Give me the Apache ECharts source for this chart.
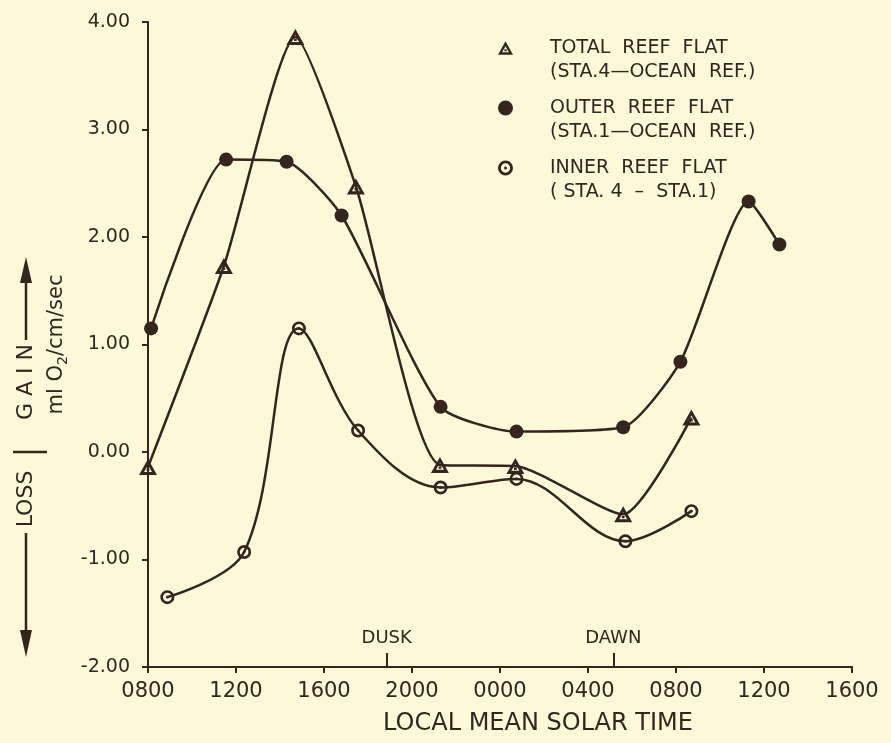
<!DOCTYPE html>
<html>
<head>
<meta charset="utf-8">
<script src="https://cdn.jsdelivr.net/npm/echarts@6/dist/echarts.min.js"></script>
<style>
  html, body { margin: 0; padding: 0; background: #fcf8d8; }
  #chart { width: 891px; height: 743px; }
</style>
</head>
<body>
<div id="chart"></div>
<script>
// hours after 0800 on day one
const totalX = [0, 3.45, 6.7, 9.45, 13.27, 16.7, 21.6, 24.7];
const totalY = [-0.14, 1.73, 3.86, 2.47, -0.12, -0.13, -0.58, 0.32];

const outerX = [0.14, 3.55, 6.3, 8.8, 13.3, 16.75, 21.6, 24.2, 27.3, 28.7];
const outerY = [1.15, 2.72, 2.7, 2.2, 0.42, 0.19, 0.23, 0.84, 2.33, 1.93];

const innerX = [0.88, 4.37, 6.86, 9.55, 13.3, 16.75, 21.7, 24.7];
const innerY = [-1.35, -0.93, 1.15, 0.2, -0.33, -0.25, -0.83, -0.55];

const seriesNames = [
  "TOTAL  REEF  FLAT\n(STA.4\u2014OCEAN  REF.)",
  "OUTER  REEF  FLAT\n(STA.1\u2014OCEAN  REF.)",
  "INNER  REEF  FLAT\n( STA. 4  \u2013  STA.1)",
];

const duskX = 10.85;
const dawnX = 21.15;

const ink = "#35251e";
const font = "DejaVu Sans";

const triPath =
  "path://M0,-10L10,8L-10,8Z M0,-3.4L-4.4,4.5L4.4,4.5Z M-1.5,0.8L1.5,0.8L1.5,3.4L-1.5,3.4Z";
const ringPath =
  "path://M0,-10A10,10 0 1,1 0,10A10,10 0 1,1 0,-10Z M0,-6.2A6.2,6.2 0 1,0 0,6.2A6.2,6.2 0 1,0 0,-6.2Z M0,-2A2,2 0 1,1 0,2A2,2 0 1,1 0,-2Z";

const zip = (xs, ys) => xs.map((x, i) => [x, ys[i]]);

const hourLabel = (v) => {
  const h = (8 + v) % 24;
  return String(h * 100).padStart(4, "0");
};

const chart = echarts.init(document.getElementById("chart"));

chart.setOption({
  backgroundColor: "#fcf8d8",
  animation: false,
  textStyle: { fontFamily: font, color: ink },
  grid: { left: 148, right: 39, top: 22, bottom: 76 },
  legend: {
    orient: "vertical",
    left: 498,
    top: 12,
    padding: 0,
    itemGap: -12,
    itemWidth: 15,
    itemHeight: 15,
    selectedMode: false,
    formatter: (name) => "\n" + name,
    textStyle: {
      fontFamily: font,
      fontSize: 19,
      lineHeight: 24,
      color: ink,
      padding: [0, 0, 0, 32],
    },
    data: [
      { name: seriesNames[0], icon: triPath },
      { name: seriesNames[1], icon: "circle" },
      { name: seriesNames[2], icon: ringPath },
    ],
  },
  xAxis: {
    type: "value",
    min: 0,
    max: 32,
    interval: 4,
    name: "LOCAL MEAN SOLAR TIME",
    nameLocation: "middle",
    nameGap: 45,
    nameTextStyle: { fontFamily: font, fontSize: 24, color: ink, padding: [0, 0, 0, 76] },
    axisLine: { onZero: false, lineStyle: { color: ink, width: 2 } },
    axisTick: { length: 6, lineStyle: { color: ink, width: 2 } },
    axisLabel: { formatter: hourLabel, fontSize: 21, color: ink, margin: 14, fontFamily: font },
    splitLine: { show: false },
  },
  yAxis: {
    type: "value",
    min: -2,
    max: 4,
    interval: 1,
    name: "ml O{sub|2}/cm/sec",
    nameLocation: "middle",
    nameRotate: 90,
    nameGap: 70,
    nameTextStyle: {
      fontFamily: font,
      fontSize: 21,
      color: ink,
      rich: {
        sub: { fontSize: 14, fontFamily: font, color: ink, padding: [12, 0, 0, 0] },
      },
    },
    axisLine: { show: true, onZero: false, lineStyle: { color: ink, width: 2 } },
    axisTick: { show: true, length: 6, lineStyle: { color: ink, width: 2 } },
    axisLabel: { formatter: (v) => v.toFixed(2), fontSize: 19, color: ink, margin: 18, fontFamily: font },
    splitLine: { show: false },
  },
  series: [
    {
      name: seriesNames[0],
      type: "line",
      smooth: 0.2,
      data: zip(totalX, totalY),
      symbol: triPath,
      symbolSize: [18, 16],
      lineStyle: { color: ink, width: 2.5 },
      itemStyle: { color: ink },
      z: 3,
    },
    {
      name: seriesNames[1],
      type: "line",
      smooth: 0.2,
      data: zip(outerX, outerY),
      symbol: "circle",
      symbolSize: 14,
      lineStyle: { color: ink, width: 2.5 },
      itemStyle: { color: ink },
      markLine: {
        silent: true,
        symbol: "none",
        lineStyle: { color: ink, width: 2, type: "solid" },
        label: {
          show: true,
          position: "end",
          formatter: "{b}",
          fontFamily: font,
          fontSize: 18,
          color: ink,
          distance: 6,
        },
        data: [
          [{ name: "DUSK", coord: [duskX, -2] }, { coord: [duskX, -1.87] }],
          [{ name: "DAWN", coord: [dawnX, -2] }, { coord: [dawnX, -1.87] }],
        ],
      },
      z: 3,
    },
    {
      name: seriesNames[2],
      type: "line",
      smooth: 0.35,
      data: zip(innerX, innerY),
      symbol: ringPath,
      symbolSize: 14,
      lineStyle: { color: ink, width: 2.5 },
      itemStyle: { color: ink },
      z: 3,
    },
  ],
  graphic: [
    // GAIN / LOSS side annotation
    { type: "text", x: 26, y: 382, rotation: Math.PI / 2,
      style: { text: "G A I N", font: "22px " + font, fill: ink, align: "center", verticalAlign: "middle" } },
    { type: "text", x: 26, y: 499, rotation: Math.PI / 2,
      style: { text: "LOSS", font: "22px " + font, fill: ink, align: "center", verticalAlign: "middle" } },
    { type: "line", shape: { x1: 13, y1: 452, x2: 47, y2: 452 }, style: { stroke: ink, lineWidth: 2.5 } },
    { type: "line", shape: { x1: 26, y1: 340, x2: 26, y2: 278 }, style: { stroke: ink, lineWidth: 2.5 } },
    { type: "polygon", shape: { points: [[26, 257], [20, 283], [32, 283]] }, style: { fill: ink } },
    { type: "line", shape: { x1: 26, y1: 533, x2: 26, y2: 636 }, style: { stroke: ink, lineWidth: 2.5 } },
    { type: "polygon", shape: { points: [[26, 657], [20, 630], [32, 630]] }, style: { fill: ink } },
  ],
});
</script>
</body>
</html>
